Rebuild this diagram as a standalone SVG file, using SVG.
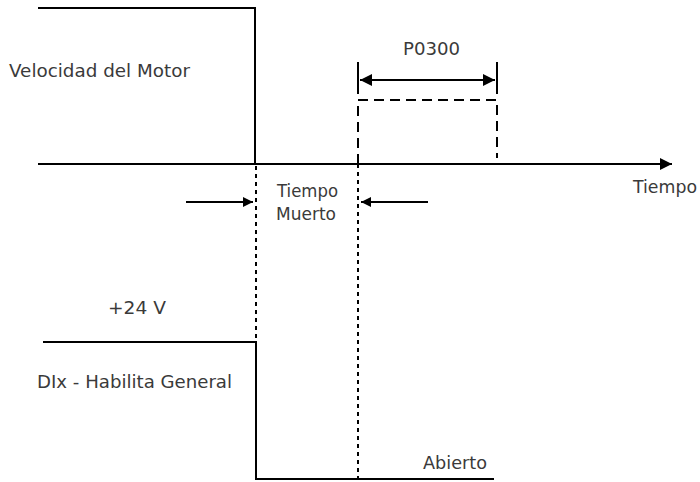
<svg xmlns="http://www.w3.org/2000/svg" width="700" height="482" viewBox="0 0 700 482">
<style>
.t{font-family:"DejaVu Sans","Liberation Sans",sans-serif;font-size:17px;fill:#3a3a3a}
.s{stroke:#000;stroke-width:2;fill:none}
.dot{stroke:#000;stroke-width:2;fill:none;stroke-dasharray:4 4}
.dash{stroke:#000;stroke-width:2;fill:none;stroke-dasharray:10 6}
</style>
<defs>
<marker id="ah" viewBox="0 0 10 10" refX="10" refY="5" markerWidth="10" markerHeight="10" markerUnits="userSpaceOnUse" orient="auto-start-reverse">
<path d="M0,0 L10,5 L0,10 z" fill="#000"/>
</marker>
<marker id="ah2" viewBox="0 0 12 12" refX="12" refY="6" markerWidth="12" markerHeight="12" markerUnits="userSpaceOnUse" orient="auto-start-reverse">
<path d="M0,0 L12,6 L0,12 z" fill="#000"/>
</marker>
</defs>
<g id="connectors">
<polyline class="s" points="38,8 255,8 255,164"/>
<line class="s" x1="38" y1="164" x2="672" y2="164" marker-end="url(#ah2)"/>
<line class="s" x1="358" y1="62" x2="358" y2="94"/>
<line class="s" x1="497" y1="62" x2="497" y2="94"/>
<line class="s" x1="360" y1="80" x2="495" y2="80" marker-start="url(#ah2)" marker-end="url(#ah2)"/>
<polyline class="dash" points="358,164 358,100 497,100 497,158"/>
<line class="dot" x1="256" y1="166" x2="256" y2="342"/>
<line class="dot" x1="358" y1="164" x2="358" y2="479"/>
<line class="s" x1="186" y1="202" x2="253" y2="202" marker-end="url(#ah)"/>
<line class="s" x1="428" y1="202" x2="361" y2="202" marker-end="url(#ah)"/>
<polyline class="s" points="43,342 256,342 256,479 494,479"/>
</g>
<g id="velocidad"><text class="t" x="9" y="77" textLength="181" lengthAdjust="spacingAndGlyphs">Velocidad del Motor</text></g>
<g id="p0300"><text class="t" x="403" y="55" textLength="57" lengthAdjust="spacingAndGlyphs">P0300</text></g>
<g id="tiempo-muerto"><text class="t" x="277" y="197" textLength="61" lengthAdjust="spacingAndGlyphs">Tiempo</text><text class="t" x="276" y="220" textLength="60" lengthAdjust="spacingAndGlyphs">Muerto</text></g>
<g id="tiempo"><text class="t" x="633" y="193" textLength="64" lengthAdjust="spacingAndGlyphs">Tiempo</text></g>
<g id="v24"><text class="t" x="108" y="314" textLength="58" lengthAdjust="spacingAndGlyphs">+24 V</text></g>
<g id="dix"><text class="t" x="37" y="388" textLength="195" lengthAdjust="spacingAndGlyphs">DIx - Habilita General</text></g>
<g id="abierto"><text class="t" x="423" y="469" textLength="64" lengthAdjust="spacingAndGlyphs">Abierto</text></g>
</svg>
